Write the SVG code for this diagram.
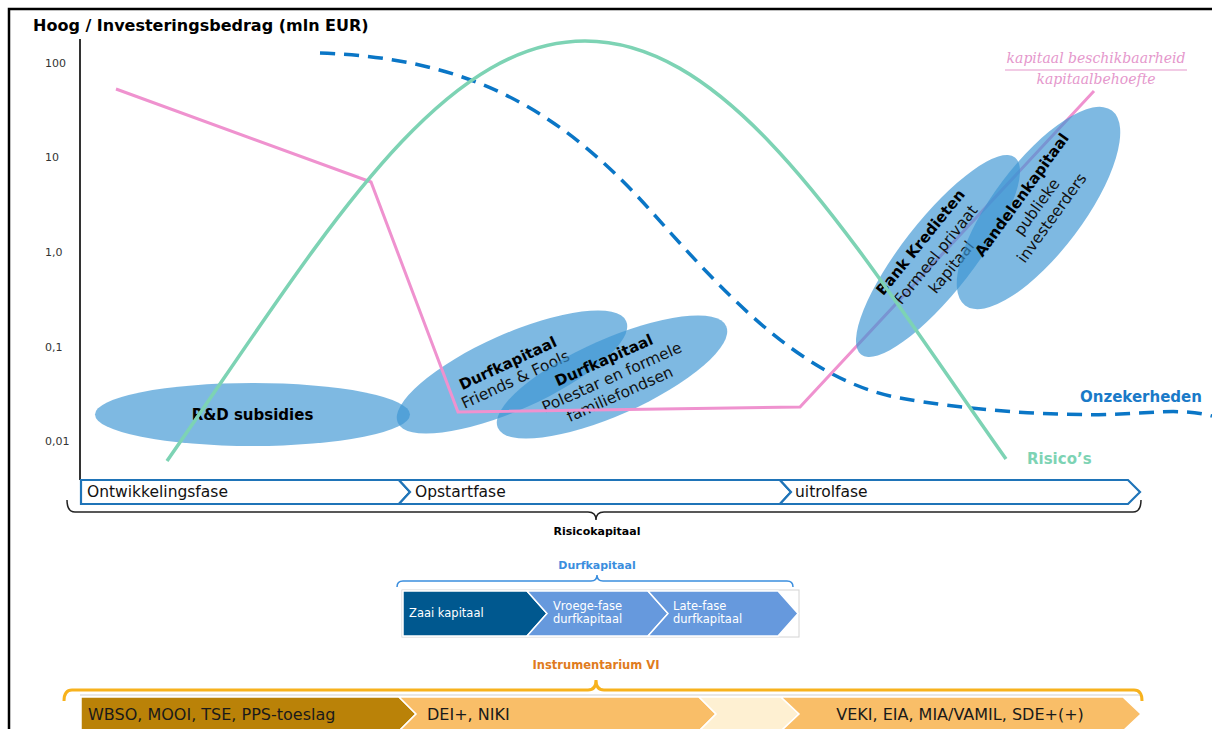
<svg xmlns="http://www.w3.org/2000/svg" width="1212" height="729" viewBox="0 0 1212 729">
<style>
text{font-family:"DejaVu Sans",Verdana,sans-serif;}
.tick{font-size:11px;fill:#333;}
.ell{fill:#3b95d3;fill-opacity:0.66;}
.eb{font-size:15px;font-weight:bold;fill:#000;text-anchor:middle;}
.er{font-size:15.5px;fill:#111;text-anchor:middle;}
.phase{fill:#fff;stroke:#1f74b8;stroke-width:2.2;}
.phtxt{font-size:15.5px;fill:#111;}
.dk{font-size:11.5px;fill:#fff;}
.inst{font-size:16px;fill:#1a1a1a;}
.pk{font-family:"DejaVu Serif",serif;font-style:italic;font-size:14px;fill:#e597cc;text-anchor:middle;}
</style>
<rect width="1212" height="729" fill="#fff"/>
<path d="M9,729 L9,9 L1212,9" fill="none" stroke="#000" stroke-width="2.5"/>

<g id="axis">
<line x1="80" y1="39" x2="80" y2="480" stroke="#333" stroke-width="2"/>
<text x="33" y="31" style="font-size:16px;font-weight:bold;fill:#000">Hoog / Investeringsbedrag (mln EUR)</text>
<text class="tick" x="45" y="67">100</text>
<text class="tick" x="45" y="161">10</text>
<text class="tick" x="45" y="256">1,0</text>
<text class="tick" x="45" y="351">0,1</text>
<text class="tick" x="45" y="445">0,01</text>
</g>

<g id="curve-onzekerheden">
<path d="M320,53 C470,58 560,110 650,210 C720,288 800,380 900,398 C960,409 1050,417 1120,414 C1160,412 1185,409 1212,416" fill="none" stroke="#0a76c6" stroke-width="3.5" stroke-dasharray="15 9"/>
<text x="1080" y="402" style="font-size:15px;font-weight:bold;fill:#1a7ac8">Onzekerheden</text>
</g>

<g id="node-rd">
<ellipse class="ell" cx="252.5" cy="414.5" rx="157.5" ry="31.5"/>
<text class="eb" x="252.5" y="420">R&amp;D subsidies</text>
</g>

<g id="node-friends">
<ellipse class="ell" cx="512" cy="372" rx="125" ry="38" transform="rotate(-24 512 372)"/>
<text class="eb" x="510" y="368" transform="rotate(-25 510 368)">Durfkapitaal</text>
<text class="er" x="517.6" y="384.3" transform="rotate(-25 517.6 384.3)">Friends &amp; Fools</text>
</g>

<g id="node-polestar">
<ellipse class="ell" cx="612" cy="377" rx="125" ry="38" transform="rotate(-24 612 377)"/>
<text class="eb" x="606" y="365" transform="rotate(-24 606 365)">Durfkapitaal</text>
<text class="er" x="614" y="382" transform="rotate(-24 614 382)">Polestar en formele</text>
<text class="er" x="622" y="399" transform="rotate(-24 622 399)">familiefondsen</text>
</g>

<g id="curve-kapitaal">
<polyline points="116,89 371,182 458,412 800,407 1094,91" fill="none" stroke="#ef92cf" stroke-width="3"/>
<text class="pk" x="1096" y="63">kapitaal beschikbaarheid</text>
<line x1="1005" y1="70" x2="1187" y2="70" stroke="#e597cc" stroke-width="1.2"/>
<text class="pk" x="1096" y="84">kapitaalbehoefte</text>
</g>

<g id="node-bank">
<ellipse class="ell" cx="938" cy="256" rx="125" ry="36" transform="rotate(-52 938 256)"/>
<text class="eb" x="924.5" y="245.5" transform="rotate(-51 924.5 245.5)">Bank Kredieten</text>
<text class="er" x="940" y="258" transform="rotate(-51 940 258)">Formeel privaat</text>
<text class="er" x="955.5" y="270.5" transform="rotate(-51 955.5 270.5)">kapitaal</text>
</g>

<g id="node-aandelen">
<ellipse class="ell" cx="1038.5" cy="208" rx="122" ry="45" transform="rotate(-53 1038.5 208)"/>
<text class="eb" x="1026" y="198" transform="rotate(-54 1026 198)">Aandelenkapitaal</text>
<text class="er" x="1041" y="210" transform="rotate(-54 1041 210)">publieke</text>
<text class="er" x="1056" y="221" transform="rotate(-54 1056 221)">investeerders</text>
</g>

<g id="curve-risicos">
<path d="M167,461 C317,246 435,41 585,41 C735,41 855,246 1006,459" fill="none" stroke="#7dd3b4" stroke-width="3.5"/>
<text x="1027" y="464" style="font-size:15px;font-weight:bold;fill:#7dd3b4">Risico’s</text>
</g>

<g id="phases">
<polygon class="phase" points="81,480 399,480 410,492 399,504 81,504"/>
<polygon class="phase" points="399,480 780,480 791,492 780,504 399,504 410,492"/>
<polygon class="phase" points="780,480 1128,480 1140,492 1128,504 780,504 791,492"/>
<text class="phtxt" x="87" y="497">Ontwikkelingsfase</text>
<text class="phtxt" x="415" y="497">Opstartfase</text>
<text class="phtxt" x="795" y="497">uitrolfase</text>
</g>

<g id="risicokapitaal">
<path d="M67,500 Q67,512 75,512 L588,512 Q596,512 596,520 Q596,512 604,512 L1133,512 Q1141,512 1141,500" fill="none" stroke="#222" stroke-width="1.5"/>
<text x="597" y="535" text-anchor="middle" style="font-size:11px;font-weight:bold;fill:#000">Risicokapitaal</text>
</g>

<g id="durfkapitaal">
<text x="597" y="569" text-anchor="middle" style="font-size:11px;font-weight:bold;fill:#3b8ede">Durfkapitaal</text>
<path d="M397,587 Q397,581 403,581 L591,581 Q597,581 597,575 Q597,581 603,581 L787,581 Q793,581 793,587" fill="none" stroke="#3b8ede" stroke-width="1.5"/>
<rect x="402" y="590" width="397" height="47" fill="none" stroke="#d4d4d4" stroke-width="1"/>
<polygon points="403,591 527,591 547,613.5 527,636 403,636" fill="#00588f" stroke="#fff" stroke-width="1.5"/>
<polygon points="527,591 648,591 668,613.5 648,636 527,636 547,613.5" fill="#6699dd" stroke="#fff" stroke-width="1.5"/>
<polygon points="648,591 778,591 798,613.5 778,636 648,636 668,613.5" fill="#6699dd" stroke="#fff" stroke-width="1.5"/>
<text class="dk" x="409" y="617">Zaai kapitaal</text>
<text class="dk" x="553" y="610">Vroege-fase</text>
<text class="dk" x="553" y="623">durfkapitaal</text>
<text class="dk" x="673" y="610">Late-fase</text>
<text class="dk" x="673" y="623">durfkapitaal</text>
</g>

<g id="instrumentarium">
<text x="596" y="669" text-anchor="middle" style="font-size:11.5px;font-weight:bold;fill:#e07b20">Instrumentarium VI</text>
<path d="M64,701 Q64,690 72,690 L588,690 Q596,690 596,680 Q596,690 604,690 L1134,690 Q1142,690 1142,701" fill="none" stroke="#f7b21d" stroke-width="3"/>
<line x1="80" y1="695" x2="1140" y2="695" stroke="#cfcfcf" stroke-width="1"/>
<polygon points="81,697 399,697 416,714 399,731 81,731" fill="#ba8208" stroke="#fff" stroke-width="1.5"/>
<polygon points="399,697 699,697 716,714 699,731 399,731 416,714" fill="#f9be68" stroke="#fff" stroke-width="1.5"/>
<polygon points="699,697 781,697 799,714 781,731 699,731 716,714" fill="#fef0d2" stroke="#fff" stroke-width="1.5"/>
<polygon points="781,697 1123,697 1141,714 1123,731 781,731 799,714" fill="#f9be68" stroke="#fff" stroke-width="1.5"/>
<text class="inst" x="88" y="720">WBSO, MOOI, TSE, PPS-toeslag</text>
<text class="inst" x="427" y="720">DEI+, NIKI</text>
<text class="inst" x="960" y="720" text-anchor="middle">VEKI, EIA, MIA/VAMIL, SDE+(+)</text>
</g>
</svg>
